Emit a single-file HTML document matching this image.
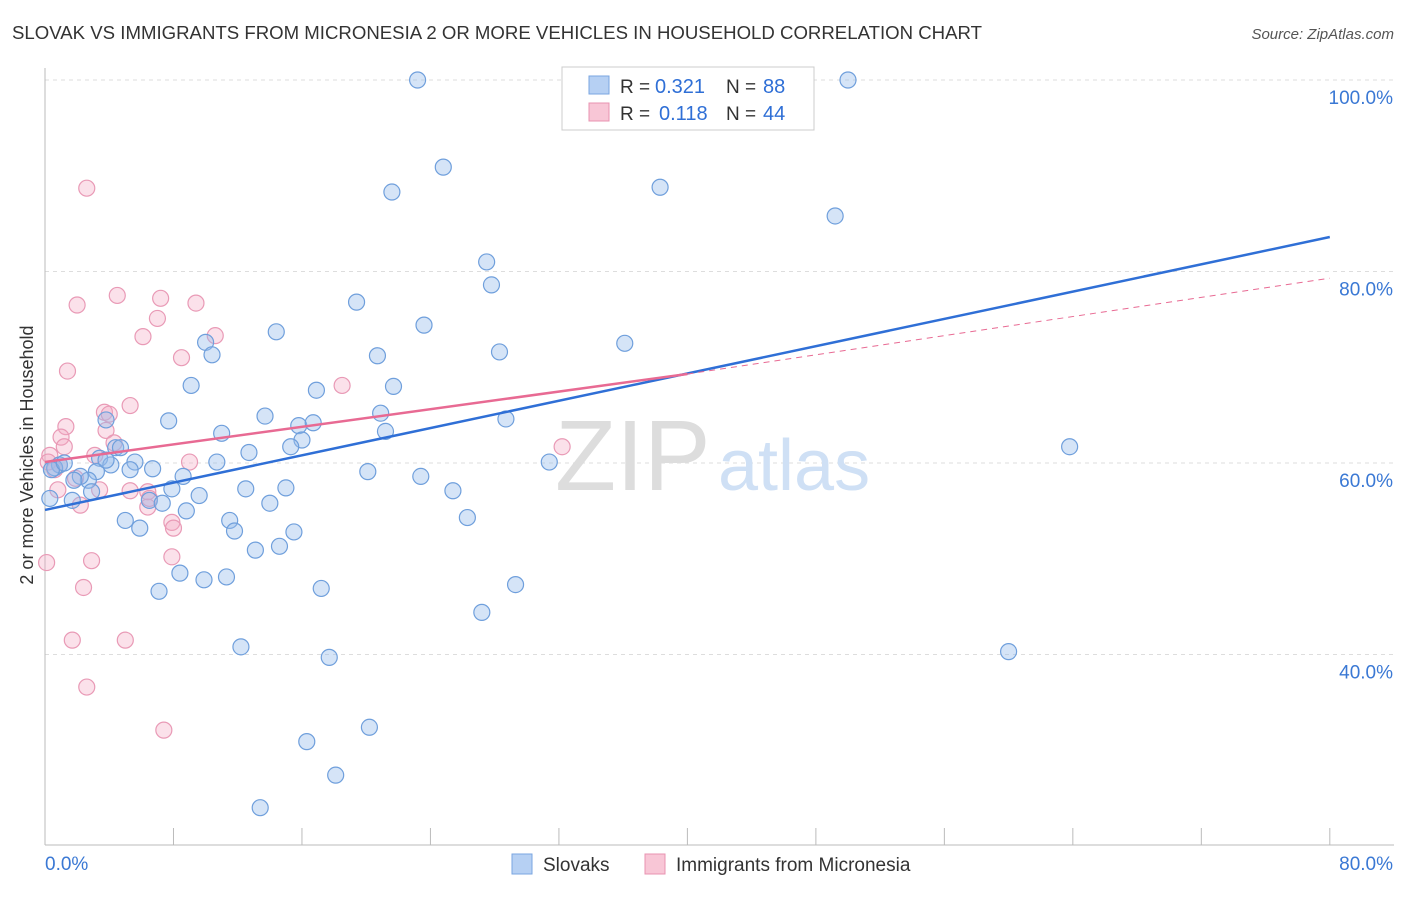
<!DOCTYPE html>
<html><head><meta charset="utf-8">
<style>
body{margin:0;background:#fff;font-family:"Liberation Sans",sans-serif;}
svg text{font-family:"Liberation Sans",sans-serif;}
</style></head>
<body>
<svg width="1406" height="892" xmlns="http://www.w3.org/2000/svg">
<text x="12" y="39" font-size="18" fill="#333" textLength="970" lengthAdjust="spacingAndGlyphs">SLOVAK VS IMMIGRANTS FROM MICRONESIA 2 OR MORE VEHICLES IN HOUSEHOLD CORRELATION CHART</text>
<text x="1394" y="39" font-size="15" fill="#555" font-style="italic" text-anchor="end">Source: ZipAtlas.com</text>
<g id="grid"></g>
<g id="axes"></g>
<text x="555" y="490" font-size="100" fill="#ddd" font-family="Liberation Serif">ZIP</text>
<text x="718" y="490" font-size="72" fill="#cfe0f5">atlas</text>
<g id="pts"></g>
<g id="lines"></g>
<text x="33" y="455" font-size="18" fill="#333" text-anchor="middle" transform="rotate(-90 33 455)">2 or more Vehicles in Household</text>
<g>
<rect x="562" y="67" width="252" height="63" fill="#fff" stroke="#ccc"/>
<rect x="589" y="76" width="20" height="18" fill="#b6d0f3" stroke="#7aa6e0"/>
<rect x="589" y="103" width="20" height="18" fill="#f8c6d6" stroke="#e893b0"/>
<text x="620" y="93" font-size="19" fill="#333">R =</text>
<text x="655" y="93" font-size="20" fill="#2f6fd6">0.321</text>
<text x="726" y="93" font-size="19" fill="#333">N =</text>
<text x="763" y="93" font-size="20" fill="#2f6fd6">88</text>
<text x="620" y="120" font-size="19" fill="#333">R =</text>
<text x="659" y="120" font-size="20" fill="#2f6fd6">0.118</text>
<text x="726" y="120" font-size="19" fill="#333">N =</text>
<text x="763" y="120" font-size="20" fill="#2f6fd6">44</text>
</g>
<g>
<rect x="512" y="854" width="20" height="20" fill="#b6d0f3" stroke="#7aa6e0"/>
<text x="543" y="871" font-size="19" fill="#333">Slovaks</text>
<rect x="645" y="854" width="20" height="20" fill="#f8c6d6" stroke="#e893b0"/>
<text x="676" y="871" font-size="19" fill="#333">Immigrants from Micronesia</text>
</g>
</svg>
<script>
const blueX=[23.2,38,50,24.8,21.6,38.3,49.2,27.5,27.8,19.4,23.6,14.4,10,10.4,20.7,28.3,36.1,9.1,16.9,21.7,7.7,13.7,20.9,15.8,16.7,28.7,11,16,15.3,12.7,21.2,4.4,3.8,4.7,3.4,5.6,10.7,6.7,8.6,5.3,4.1,3.2,2.7,2.2,1.8,0.9,0.6,20.1,23.4,31.4,63.8,7.9,9.6,12.5,15,25.4,2.9,1.7,6.5,7.3,8.8,14,5,5.9,11.5,11.8,15.5,26.3,13.1,14.6,8.4,9.9,11.3,7.1,17.2,29.3,27.2,12.2,17.7,60,16.3,20.2,18.1,13.4,0.3,0.4,1.2,3.8];
const blueY=[100,100,100,90.9,88.3,88.8,85.8,81.0,78.6,76.8,74.4,73.7,72.6,71.3,71.2,71.6,72.5,68.1,67.6,68.0,64.4,64.9,65.2,63.9,64.2,64.6,63.1,62.4,61.7,61.1,63.3,61.6,64.5,61.6,60.5,60.1,60.1,59.4,58.6,59.3,59.8,59.1,58.2,58.6,58.2,59.8,59.5,59.1,58.6,60.1,61.7,57.3,56.6,57.3,57.4,57.1,57.0,56.1,56.1,55.8,55.0,55.8,54.0,53.2,54.0,52.9,52.8,54.3,50.9,51.3,48.5,47.8,48.1,46.6,46.9,47.3,44.4,40.8,39.7,40.3,30.9,32.4,27.4,24.0,56.3,59.3,60.0,60.3];
const pinkX=[2.6,4.5,7.2,9.4,2,7.0,6.1,10.6,8.5,1.4,18.5,5.3,3.7,4,1.3,1,3.8,4.3,1.2,3.1,0.3,0.2,9,0.6,1.9,3.4,5.3,6.4,2.2,6.4,7.9,8,32.2,7.9,2.9,0.1,2.4,1.7,5,2.6,7.4,0.9,0.8,6.5];
const pinkY=[88.7,77.5,77.2,76.7,76.5,75.1,73.2,73.3,71.0,69.6,68.1,66.0,65.3,65.1,63.8,62.7,63.4,62.1,61.7,60.8,60.8,60.1,60.1,59.3,58.4,57.2,57.1,57.0,55.6,55.4,53.8,53.2,61.7,50.2,49.8,49.6,47.0,41.5,41.5,36.6,32.1,59.8,57.2,56.3];
const X=v=>45+v*16.06, Y=v=>80+(100-v)*9.575;
const NS="http://www.w3.org/2000/svg";
function mk(t,a,p){const e=document.createElementNS(NS,t);for(const k in a)e.setAttribute(k,a[k]);p.appendChild(e);return e;}
const grid=document.getElementById('grid'),axes=document.getElementById('axes');
[100,80,60,40].forEach(v=>{
 const l=mk('line',{x1:45,x2:1394,y1:Y(v),y2:Y(v),stroke:'#ddd','stroke-dasharray':'4,4'},grid);
 
 
 const t=mk('text',{x:1393,y:Y(v)+24,'font-size':19,fill:'#3a78d4','text-anchor':'end'},axes);
 t.textContent=v.toFixed(1)+'%';
 
 
});
const yl=mk('line',{x1:45,x2:45,y1:68,y2:845,stroke:'#bbb'},axes);


const xl=mk('line',{x1:45,x2:1394,y1:845,y2:845,stroke:'#bbb'},axes);


for(let i=0;i<=10;i++){const tk=mk('line',{x1:X(i*8),x2:X(i*8),y1:828,y2:845,stroke:'#bbb'},axes);
 
 }
const t0=mk('text',{x:45,y:870,'font-size':19,fill:'#3a78d4'},axes);t0.textContent='0.0%';


const t1=mk('text',{x:1393,y:870,'font-size':19,fill:'#3a78d4','text-anchor':'end'},axes);t1.textContent='80.0%';


const pts=document.getElementById('pts');
pinkX.forEach((x,i)=>{const c=mk('circle',{cx:X(x),cy:Y(pinkY[i]),r:8,fill:'rgba(244,170,196,0.35)',stroke:'#e99ab6','stroke-width':1.2},pts);
 
 });
blueX.forEach((x,i)=>{const c=mk('circle',{cx:X(x),cy:Y(blueY[i]),r:8,fill:'rgba(150,188,236,0.4)',stroke:'#6f9fdc','stroke-width':1.2},pts);
 
 });
const ln=document.getElementById('lines');
const b=mk('line',{x1:X(0),y1:Y(55.1),x2:X(80),y2:Y(83.6),stroke:'#2f6fd6','stroke-width':2.5},ln);


const p=mk('line',{x1:X(0),y1:Y(60.1),x2:X(40),y2:Y(69.3),stroke:'#e86a93','stroke-width':2.5},ln);


const pd=mk('line',{x1:X(40),y1:Y(69.3),x2:X(80),y2:Y(79.3),stroke:'#e86a93','stroke-width':1,'stroke-dasharray':'6,5'},ln);


</script>
</body></html>
